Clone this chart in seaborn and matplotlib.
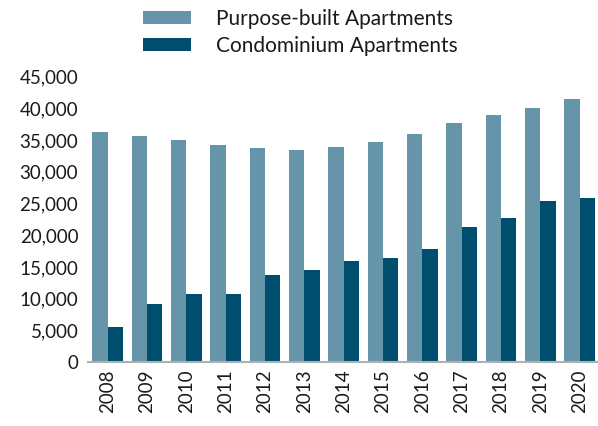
import matplotlib
matplotlib.use("Agg")
import matplotlib.pyplot as plt
import seaborn as sns
import pandas as pd
from matplotlib.ticker import FuncFormatter

years = ["2008", "2009", "2010", "2011", "2012", "2013", "2014",
         "2015", "2016", "2017", "2018", "2019", "2020"]
purpose_built = [36300, 35600, 35000, 34200, 33700, 33400, 33900,
                 34700, 35900, 37700, 38950, 40050, 41500]
condominium = [5600, 9100, 10800, 10700, 13800, 14500, 15900,
               16400, 17800, 21300, 22700, 25400, 25850]
series_names = ["Purpose-built Apartments", "Condominium Apartments"]
colors = ["#6695AA", "#004E6E"]

df = pd.DataFrame({
    "year": years * 2,
    "value": purpose_built + condominium,
    "series": [series_names[0]] * len(years) + [series_names[1]] * len(years),
})

sns.set_theme(style="white")
plt.rcParams["font.family"] = ["Lato", "DejaVu Sans"]

fig = plt.figure(figsize=(5.98, 4.26), dpi=100)
ax = fig.add_axes([88 / 598, 0.150, (598 - 88) / 598, 0.670])

sns.barplot(data=df, x="year", y="value", hue="series", palette=colors,
            width=0.78, saturation=1, linewidth=0, ax=ax, legend=True)

ax.set_ylim(0, 45000)
ax.set_xlim(-0.5, 12.47)
ax.set_yticks(range(0, 45001, 5000))
ax.yaxis.set_major_formatter(FuncFormatter(lambda v, p: f"{int(v):,}"))
ax.tick_params(axis="y", labelsize=13.5, length=0, pad=7, labelcolor="#1a1a1a")
ax.tick_params(axis="x", labelsize=13.5, length=0, pad=5, rotation=90, labelcolor="#1a1a1a")
ax.set_xlabel("")
ax.set_ylabel("")
for s in ["top", "right", "left"]:
    ax.spines[s].set_visible(False)
ax.spines["bottom"].set_color("#b0b0b0")
ax.spines["bottom"].set_linewidth(1.5)

handles, labels = ax.get_legend_handles_labels()
ax.legend_.remove()
fig.legend(handles, labels, loc="center left", bbox_to_anchor=(143 / 598, 0.924),
           frameon=False, fontsize=15, handlelength=2.3, handleheight=0.58,
           handletextpad=1.2, labelspacing=0.36, borderpad=0, borderaxespad=0,
           labelcolor="#1a1a1a")

fig.savefig("out.png", dpi=100)
